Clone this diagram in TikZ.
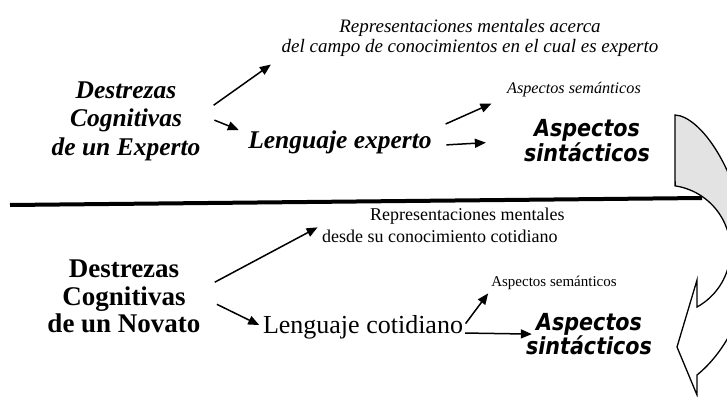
\documentclass[tikz,border=0pt]{standalone}
\usepackage{fontspec}
\setmainfont{Liberation Serif}
\newfontfamily\sinfont{DejaVu Sans}[FakeStretch=0.88]
\usetikzlibrary{positioning}
\usetikzlibrary{arrows.meta}
\tikzset{
    skill/.style={
        align=center,
        inner sep=0pt
    },
    rep/.style={
        inner sep=0pt
    },
    syntax/.style={
        align=center,
        inner sep=0pt,
        font=\fontsize{23.5}{23.5}\selectfont\sinfont\bfseries\itshape
    },
    bendband/.style={
        draw,
        line width=1.3pt,
        line join=miter
    },
    every edge/.append style={
        draw,
        ->,>={Triangle[length=11pt,width=9pt]},
        line width=1.5pt
    }
}

\begin{document}
\begin{tikzpicture}[x=1pt,y=-1pt]
    \useasboundingbox (0,0) rectangle (727,396);
    \clip (0,0) rectangle (727,396);

    % experto
    \node[skill, font=\fontsize{25.5}{28.5}\selectfont\bfseries\itshape] (expert) at (126,121)
        {Destrezas\\Cognitivas\\de un Experto};
    \node[rep, align=center, font=\fontsize{19}{20.5}\selectfont\itshape] (repexp) at (470,38)
        {Representaciones mentales acerca\\del campo de conocimientos en el cual es experto};
    \node[rep, anchor=base, font=\fontsize{25.5}{28}\selectfont\bfseries\itshape] (lengexp) at (340,148)
        {Lenguaje experto};
    \node[rep, anchor=base, font=\fontsize{16.2}{18}\selectfont\itshape] (semexp) at (574,93)
        {Aspectos semánticos};
    \node[syntax] (sinexp) at (587,140.5) {Aspectos\\sintácticos};

    \draw (expert.5) edge[shorten <=16pt, shorten >=13pt] (repexp.south west)
        edge[shorten <=15pt, shorten >=10pt] (lengexp.175);
    \draw (lengexp.north east) edge[shorten <=15pt, shorten >=17pt] (semexp.south west);
    \draw (lengexp.mid east) edge[shorten <=14.5pt, shorten >=38pt] (sinexp.west);

    % novato
    \node[skill, font=\fontsize{27}{27.5}\selectfont\bfseries] (novice) at (124,296.4)
        {Destrezas\\Cognitivas\\de un Novato};
    \node[rep, align=left, anchor=west, font=\fontsize{18}{22}\selectfont] (repnov) at (322,225)
        {\hspace*{48pt}Representaciones mentales\\desde su conocimiento cotidiano};
    \node[rep, anchor=base, font=\fontsize{26}{28}\selectfont] (lengnov) at (363,333)
        {Lenguaje cotidiano};
    \node[rep, anchor=base, font=\fontsize{15}{17}\selectfont] (semnov) at (554,286)
        {Aspectos semánticos};
    \node[syntax] (sinnov) at (589,334) {Aspectos\\sintácticos};

    \draw (novice.5) edge[shorten <=16pt, shorten >=5pt] (repnov.west);
    \draw (novice.east) edge[shorten <=18pt, shorten >=4pt] (lengnov.west);
    \draw (lengnov.east) edge[shorten <=4pt, shorten >=5pt] (semnov.south west);
    \draw (lengnov.base east) edge[shorten <=2pt, shorten >=-6pt] (sinnov.west);

    % flecha curva
    \draw[bendband, path picture={\fill[gray!22] (650,100) rectangle (780,236);}]
        (675,115) .. controls (700,116) and (740,170) .. (748,250)
        .. controls (753,300) and (728,350) .. (697,375)
        -- (697,395) -- (677,347) -- (697,280) -- (697,307)
        arc[start angle=61, end angle=-81.5, radius=65] -- cycle;

    \draw[line width=4pt] (10,205) -- (702,198);
\end{tikzpicture}
\end{document}
